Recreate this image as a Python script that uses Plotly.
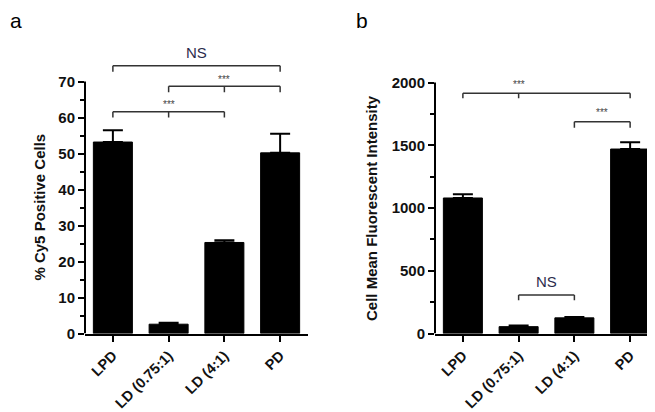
import plotly.graph_objects as go

categories = ["LPD", "LD (0.75:1)", "LD (4:1)", "PD"]
cy5_positive = [53.2, 2.6, 25.3, 50.2]
cy5_err = [3.3, 0.4, 0.6, 5.3]
mfi = [1080, 55, 125, 1470]
mfi_err = [30, 10, 6, 55]

y_a_ticks = [0, 10, 20, 30, 40, 50, 60, 70]
y_a_minor = [5, 15, 25, 35, 45, 55, 65]
y_b_ticks = [0, 500, 1000, 1500, 2000]
y_b_minor = [250, 750, 1250, 1750]

# significance brackets: (x_left, x_right, y_bar, y_arm, tick_x, label, label_x, label_y)
brackets_a = [
    (0, 3, 74.4, 72.7, None, "NS", 1.5, 78.2),
    (1, 3, 68.7, 67.0, 2, "***", 2, 70.6),
    (0, 2, 61.6, 60.0, 1, "***", 1, 63.5),
]
brackets_b = [
    (0, 3, 1914, 1875, 1, "***", 1, 1985),
    (2, 3, 1687, 1640, None, "***", 2.5, 1760),
    (1, 2, 307, 265, None, "NS", 1.5, 414),
]

W, H = 655, 412
dom_y = [(412 - 332) / 412, (412 - 38.3) / 412]
dom_a = [77 / W, 300 / W]
dom_b = [427 / W, 650 / W]

fig = go.Figure()
fig.add_trace(go.Bar(
    x=categories, y=cy5_positive, width=0.7,
    marker=dict(color="black", line=dict(color="black", width=1)),
    error_y=dict(type="data", symmetric=False, array=cy5_err,
                 arrayminus=[0] * 4, color="black", thickness=2, width=10),
    xaxis="x", yaxis="y", showlegend=False))
fig.add_trace(go.Bar(
    x=categories, y=mfi, width=0.7,
    marker=dict(color="black", line=dict(color="black", width=1)),
    error_y=dict(type="data", symmetric=False, array=mfi_err,
                 arrayminus=[0] * 4, color="black", thickness=2, width=10),
    xaxis="x2", yaxis="y2", showlegend=False))

tickfont = dict(family="Arial, Liberation Sans", size=15, color="#111")
xtickfont = dict(family="Arial, Liberation Sans", size=14.5, color="#111")

def xax(dom, anchor):
    return dict(domain=dom, anchor=anchor, range=[-0.5, 3.5], showline=True,
                linecolor="black", linewidth=2, ticks="outside", ticklen=6,
                tickwidth=2, tickcolor="black", tickangle=-45,
                tickfont=xtickfont, showgrid=False, zeroline=False,
                tickprefix="<b>", ticksuffix="</b>")

def yax(rng, tv, minor, anchor):
    return dict(domain=dom_y, anchor=anchor, range=rng, tickvals=tv,
                ticktext=[f"<b>{v}</b>" for v in tv], showline=False,
                ticks="outside", ticklen=6, tickwidth=2, tickcolor="black",
                tickfont=tickfont, showgrid=False, zeroline=False,
                minor=dict(tickvals=minor, ticks="outside", ticklen=4,
                           tickwidth=2, tickcolor="black", showgrid=False))

fig.update_layout(
    width=W, height=H, margin=dict(l=0, r=0, t=0, b=0),
    plot_bgcolor="white", paper_bgcolor="white",
    xaxis=xax(dom_a, "y"), yaxis=yax([0, 80], y_a_ticks, y_a_minor, "x"),
    xaxis2=xax(dom_b, "y2"), yaxis2=yax([0, 2294.5], y_b_ticks, y_b_minor, "x2"),
    bargap=0.3,
)

shapes = []
annotations = []
# y-axis lines
shapes.append(dict(type="line", xref="paper", yref="y", x0=dom_a[0], x1=dom_a[0],
                   y0=0, y1=70, line=dict(color="black", width=2)))
shapes.append(dict(type="line", xref="paper", yref="y2", x0=dom_b[0], x1=dom_b[0],
                   y0=0, y1=2000, line=dict(color="black", width=2)))

def add_brackets(brs, xr, yr):
    for (xl, xr_, yb, ya, tx, lab, lx, ly) in brs:
        ln = dict(color="#333", width=1.5)
        shapes.append(dict(type="line", xref=xr, yref=yr, x0=xl, x1=xr_, y0=yb, y1=yb, line=ln))
        shapes.append(dict(type="line", xref=xr, yref=yr, x0=xl, x1=xl, y0=yb, y1=ya, line=ln))
        shapes.append(dict(type="line", xref=xr, yref=yr, x0=xr_, x1=xr_, y0=yb, y1=ya, line=ln))
        if tx is not None:
            shapes.append(dict(type="line", xref=xr, yref=yr, x0=tx, x1=tx, y0=yb, y1=ya, line=ln))
        if lab == "NS":
            f = dict(family="Arial, Liberation Sans", size=15, color="#2c2c4c")
        else:
            f = dict(family="Arial, Liberation Sans", size=10, color="#444")
        annotations.append(dict(xref=xr, yref=yr, x=lx, y=ly, text=lab, showarrow=False,
                                font=f, xanchor="center", yanchor="middle"))

add_brackets(brackets_a, "x", "y")
add_brackets(brackets_b, "x2", "y2")

# axis titles
annotations.append(dict(xref="paper", yref="y", x=32 / W, y=35, text="<b>% Cy5 Positive Cells</b>",
                        textangle=-90, showarrow=False, xanchor="center", yanchor="middle",
                        font=dict(family="Arial, Liberation Sans", size=15, color="#111")))
annotations.append(dict(xref="paper", yref="y2", x=363 / W, y=1000,
                        text="<b>Cell Mean Fluorescent Intensity</b>",
                        textangle=-90, showarrow=False, xanchor="center", yanchor="middle",
                        font=dict(family="Arial, Liberation Sans", size=15, color="#111")))
# panel letters
annotations.append(dict(xref="paper", yref="paper", x=0, y=1, xshift=0, yshift=1, text="a",
                        showarrow=False, xanchor="left", yanchor="top",
                        font=dict(family="Arial, Liberation Sans", size=21, color="black")))
annotations.append(dict(xref="paper", yref="paper", x=346 / W, y=1, xshift=0, yshift=1, text="b",
                        showarrow=False, xanchor="left", yanchor="top",
                        font=dict(family="Arial, Liberation Sans", size=21, color="black")))

fig.update_layout(shapes=shapes, annotations=annotations)
fig.write_html("out.html")
